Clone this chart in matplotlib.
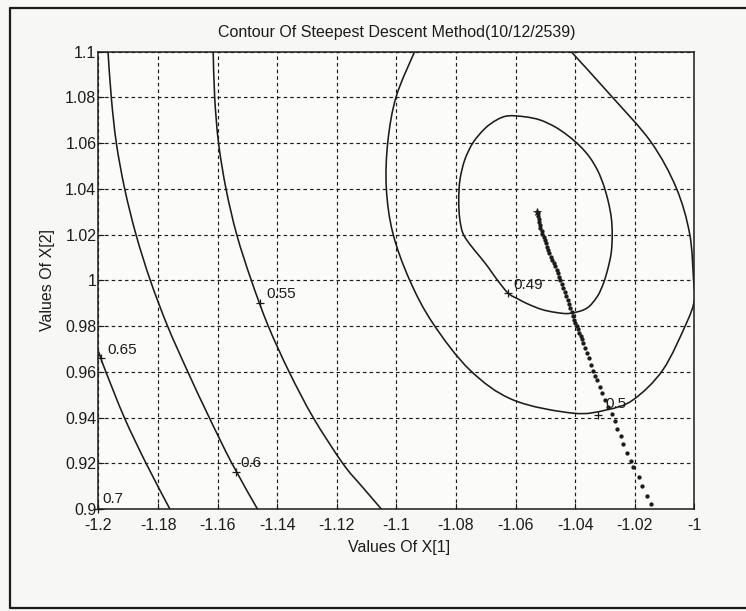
import numpy as np
import matplotlib
matplotlib.use("Agg")
import matplotlib.pyplot as plt
from matplotlib.lines import Line2D
from matplotlib.path import Path
from matplotlib.patches import PathPatch

plt.rcParams['font.family'] = ['Liberation Sans', 'DejaVu Sans']

# ---------------- data ----------------
x_ticks = [-1.2, -1.18, -1.16, -1.14, -1.12, -1.1, -1.08, -1.06, -1.04, -1.02, -1.0]
x_tick_labels = ['-1.2', '-1.18', '-1.16', '-1.14', '-1.12', '-1.1', '-1.08',
                 '-1.06', '-1.04', '-1.02', '-1']
y_ticks = [0.9, 0.92, 0.94, 0.96, 0.98, 1.0, 1.02, 1.04, 1.06, 1.08, 1.1]
y_tick_labels = ['0.9', '0.92', '0.94', '0.96', '0.98', '1', '1.02', '1.04',
                 '1.06', '1.08', '1.1']

# contour level 0.49 (closed curve, traced clockwise from the top)
c049_x = [-1.0626, -1.0569, -1.0518, -1.0468, -1.0425, -1.0384, -1.0351, -1.0324,
          -1.0304, -1.0289, -1.0279, -1.0276, -1.0279, -1.0290, -1.0305, -1.0326,
          -1.0362, -1.0418, -1.0465, -1.0512, -1.0559, -1.0592, -1.0625, -1.0664,
          -1.0690, -1.0720, -1.0752, -1.0777, -1.0788, -1.0791, -1.0787, -1.0771,
          -1.0743, -1.0703, -1.0664]
c049_y = [1.0719, 1.0715, 1.0701, 1.0671, 1.0633, 1.0587, 1.0537, 1.0478,
          1.0413, 1.0343, 1.0273, 1.0203, 1.0124, 1.0054, 0.9989, 0.9930,
          0.9878, 0.9856, 0.9860, 0.9873, 0.9897, 0.9919, 0.9944, 1.0006,
          1.0054, 1.0104, 1.0155, 1.0206, 1.0273, 1.0352, 1.0439, 1.0526,
          1.0602, 1.0664, 1.0701]

# contour level 0.5 (leaves the axes at the top)
c050_x = [-1.0939, -1.1001, -1.1029, -1.1034, -1.1012, -1.0956, -1.0878, -1.0754,
          -1.0609, -1.0408, -1.0296, -1.0206, -1.0106, -1.0027, -1.0000, -1.0003,
          -1.0016, -1.0061, -1.0146, -1.0277, -1.0414]
c050_y = [1.1000, 1.0803, 1.0605, 1.0404, 1.0206, 1.0002, 0.9813, 0.9609,
          0.9478, 0.9420, 0.9434, 0.9478, 0.9609, 0.9813, 0.9915, 1.0002,
          1.0203, 1.0404, 1.0605, 1.0803, 1.1000]

# contour level 0.55
c055_x = [-1.1615, -1.1610, -1.1597, -1.1572, -1.1536, -1.1487, -1.1430, -1.1360,
          -1.1279, -1.1180, -1.1116, -1.1050]
c055_y = [1.10, 1.08, 1.06, 1.04, 1.02, 1.00, 0.98, 0.96, 0.94, 0.92, 0.91, 0.90]

# contour level 0.6
c060_x = [-1.1968, -1.1957, -1.1940, -1.1912, -1.1874, -1.1826, -1.1768, -1.1700,
          -1.1628, -1.1552, -1.1466]
c060_y = [1.10, 1.08, 1.06, 1.04, 1.02, 1.00, 0.98, 0.96, 0.94, 0.92, 0.90]

# contour level 0.65
c065_x = [-1.2000, -1.1992, -1.1975, -1.1913, -1.1840, -1.1760]
c065_y = [0.9690, 0.9660, 0.9600, 0.9400, 0.9200, 0.9000]

contour_x = [c049_x, c050_x, c055_x, c060_x, c065_x]
contour_y = [c049_y, c050_y, c055_y, c060_y, c065_y]
contour_closed = [True, False, False, False, False]

# contour labels: '+' anchor and text position
label_text = ['0.49', '0.5', '0.55', '0.6', '0.65', '0.7']
label_px = [-1.0625, -1.0323, -1.1458, -1.1540, -1.1992, -1.2000]
label_py = [0.9944, 0.9412, 0.9900, 0.9164, 0.9660, 0.9000]
label_tx = [-1.0559, -1.0263, -1.1386, -1.1488, -1.1921, -1.1951]
label_ty = [0.9980, 0.9460, 0.9941, 0.9204, 0.9696, 0.9045]

# steepest descent iterates
path_x = [-1.0147, -1.0158, -1.0176, -1.0187, -1.0207, -1.0214, -1.0226, -1.0239,
          -1.0248, -1.0259, -1.0268, -1.0278, -1.0289, -1.0300, -1.0310, -1.0317,
          -1.0327, -1.0333, -1.0340, -1.0347, -1.0355, -1.0362, -1.0366, -1.0373,
          -1.0378, -1.0382, -1.0387, -1.0391, -1.0394, -1.0401, -1.0404, -1.0408,
          -1.0411, -1.0416, -1.0421, -1.0426, -1.0431, -1.0435, -1.0440, -1.0443,
          -1.0450, -1.0453, -1.0458, -1.0461, -1.0468, -1.0471, -1.0478, -1.0481,
          -1.0488, -1.0490, -1.0496, -1.0498, -1.0503, -1.0505, -1.0510, -1.0511,
          -1.0517, -1.0518, -1.0522, -1.0522, -1.0525, -1.0526]
path_y = [0.9022, 0.9059, 0.9102, 0.9142, 0.9183, 0.9211, 0.9247, 0.9284,
          0.9320, 0.9352, 0.9386, 0.9416, 0.9448, 0.9478, 0.9508, 0.9534,
          0.9565, 0.9582, 0.9606, 0.9631, 0.9660, 0.9684, 0.9704, 0.9725,
          0.9743, 0.9757, 0.9772, 0.9788, 0.9801, 0.9813, 0.9827, 0.9845,
          0.9862, 0.9878, 0.9897, 0.9915, 0.9932, 0.9950, 0.9967, 0.9984,
          1.0002, 1.0017, 1.0031, 1.0046, 1.0061, 1.0076, 1.0089, 1.0102,
          1.0118, 1.0133, 1.0148, 1.0164, 1.0177, 1.0190, 1.0203, 1.0216,
          1.0229, 1.0242, 1.0255, 1.0269, 1.0282, 1.0293]
final_x = [-1.0527]
final_y = [1.0300]

title = 'Contour Of Steepest Descent Method(10/12/2539)'
xlabel = 'Values Of X[1]'
ylabel = 'Values Of X[2]'


def smooth_curve(xs, ys, closed):
    """Smooth cubic (Catmull-Rom) path drawn through the traced points."""
    pts = np.column_stack([xs, ys]).astype(float)
    n = len(pts)
    verts = [pts[0]]
    codes = [Path.MOVETO]
    nseg = n if closed else n - 1
    for i in range(nseg):
        if closed:
            p0, p1, p2, p3 = pts[(i - 1) % n], pts[i % n], pts[(i + 1) % n], pts[(i + 2) % n]
        else:
            p0 = pts[max(i - 1, 0)]
            p1 = pts[i]
            p2 = pts[i + 1]
            p3 = pts[min(i + 2, n - 1)]
        c1 = p1 + (p2 - p0) / 6.0
        c2 = p2 - (p3 - p1) / 6.0
        verts += [c1, c2, p2]
        codes += [Path.CURVE4] * 3
    return Path(np.array(verts), codes)


# ---------------- drawing ----------------
INK = '#1c1c1c'
fig = plt.figure(figsize=(7.46, 6.11), dpi=100, facecolor='#f7f7f5')
ax = fig.add_axes([0.1320, 0.1665, 0.7989, 0.7491])
ax.set_facecolor('#fbfbfa')

ax.set_xlim(-1.2, -1.0)
ax.set_ylim(0.9, 1.1)
ax.set_xticks(x_ticks)
ax.set_xticklabels(x_tick_labels)
ax.set_yticks(y_ticks)
ax.set_yticklabels(y_tick_labels)
ax.tick_params(direction='in', length=4, width=0.8, colors=INK,
               labelsize=11.5, labelcolor=INK)
ax.tick_params(axis='x', pad=6)
ax.tick_params(axis='y', pad=1.5)
ax.grid(True, color=INK, linestyle=(0, (3, 2.6)), linewidth=0.85)
ax.set_axisbelow(True)
for s in ax.spines.values():
    s.set_linewidth(1.1)
    s.set_color(INK)

for cx, cy, cl in zip(contour_x, contour_y, contour_closed):
    patch = PathPatch(smooth_curve(cx, cy, cl), fill=False, edgecolor=INK,
                      linewidth=1.15, zorder=3, transform=ax.transData)
    ax.add_patch(patch)
    patch.set_clip_path(ax.patch)

ax.plot(label_px, label_py, linestyle='none', marker='+', markersize=6,
        markeredgewidth=0.9, color=INK, zorder=4, clip_on=False)
for t, tx, ty in zip(label_text, label_tx, label_ty):
    ax.text(tx, ty, t, fontsize=11, color=INK, ha='center', va='center', zorder=5)

ax.plot(path_x, path_y, linestyle='none', marker='o', markersize=3.1,
        markeredgewidth=0, color=INK, zorder=4)
ax.plot(final_x, final_y, linestyle='none', marker='*', markersize=5.5,
        markeredgewidth=0.6, color=INK, zorder=4)

ax.text(0.5, 1.041, title, transform=ax.transAxes, ha='center', va='center',
        fontsize=11.5, color=INK)
ax.set_xlabel(xlabel, fontsize=11.5, color=INK)
ax.xaxis.set_label_coords(0.505, -0.068)
ax.set_ylabel(ylabel, fontsize=11.5, color=INK, va='center')
ax.yaxis.set_label_coords(-0.085, 0.5)

# page frame of the scanned figure
fx0 = 10 / 746
fy_top = 1 - 7.5 / 611
fy_bot = 1 - 607.5 / 611
fig.add_artist(Line2D([1.0, fx0, fx0, 1.0], [fy_top, fy_top, fy_bot, fy_bot],
                      transform=fig.transFigure, color=INK, linewidth=1.6))

fig.savefig('out.png', dpi=100, facecolor=fig.get_facecolor())
